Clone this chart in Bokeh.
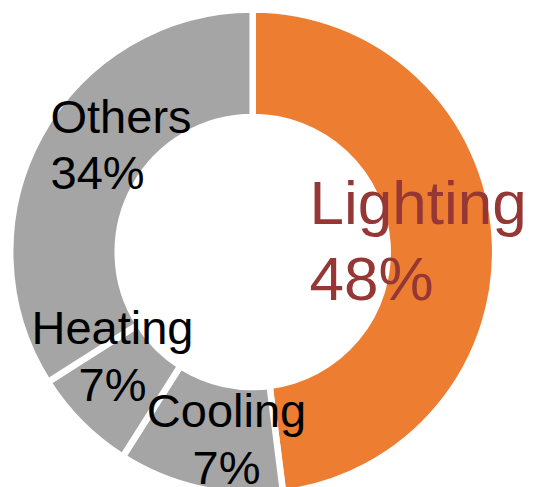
import math
from bokeh.plotting import figure
from bokeh.models import ColumnDataSource
from bokeh.core.properties import value
from bokeh.embed import file_html
from bokeh.resources import INLINE

# ---- data ----
categories = ["Lighting", "Cooling", "Heating", "Others"]
shares = [48, 11, 7, 34]            # slice sizes as drawn (clockwise from 12 o'clock)
label_pct = ["48%", "7%", "7%", "34%"]  # percentage text as printed on the chart
colors = ["#ED7D31", "#A5A5A5", "#A5A5A5", "#A5A5A5"]

W, H = 535, 487
p = figure(width=W, height=H, x_range=(0, W), y_range=(0, H),
           output_backend="svg", toolbar_location=None, min_border=0)
p.axis.visible = False
p.grid.visible = False
p.outline_line_color = None
p.background_fill_color = "white"
p.border_fill_color = "white"

cx, cy = 252.2, H - 251.5
r_out, r_in = 242.5, 135.0

total = float(sum(shares))
starts, ends = [], []
cum = 0.0
for s in shares:
    c0 = cum / total
    cum += s
    c1 = cum / total
    starts.append(math.pi / 2 - 2 * math.pi * c1)
    ends.append(math.pi / 2 - 2 * math.pi * c0)

src = ColumnDataSource(dict(x=[cx] * len(shares), y=[cy] * len(shares),
                            start=starts, end=ends, color=colors, cat=categories))
p.annular_wedge(x="x", y="y", inner_radius=r_in, outer_radius=r_out,
                start_angle="start", end_angle="end", fill_color="color",
                line_color="white", line_width=6.5, source=src)

FONT = value("Liberation Sans")

# label layout: (anchor x, first baseline y from top, line gap, size px, align, color)
layout = {
    "Lighting": (309, 226, 76, 62, "left", "#953735"),
    "Cooling": (226, 428, 57, 47, "center", "black"),
    "Heating": (112, 345, 57, 47, "center", "black"),
    "Others": (50, 134, 56, 47, "left", "black"),
}

for cat, pct in zip(categories, label_pct):
    x, yb, gap, size, align, col = layout[cat]
    adj = 0.385 * size  # compensate renderer baseline offset
    y1 = H - yb + adj
    p.text(x=[x, x], y=[y1, y1 - gap], text=[cat, pct],
           text_font=FONT, text_font_size=f"{size}px", text_align=align,
           text_baseline="alphabetic", text_color=col)

open("out.html", "w").write(file_html(p, INLINE))
